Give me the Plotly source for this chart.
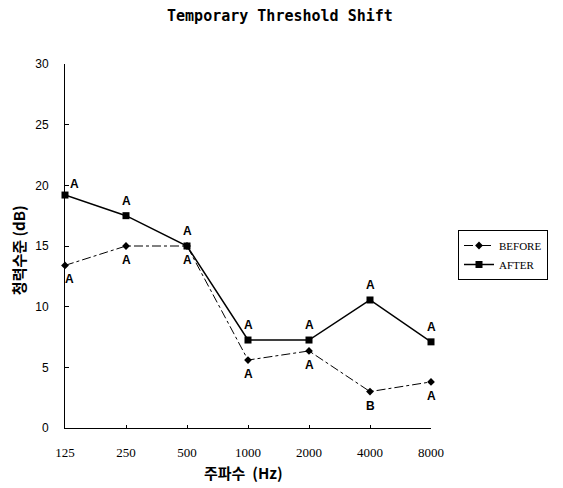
import plotly.graph_objects as go

freqs = ["125", "250", "500", "1000", "2000", "4000", "8000"]
before = [13.4, 15.0, 15.0, 5.6, 6.35, 3.0, 3.8]
after = [19.2, 17.5, 15.0, 7.25, 7.25, 10.55, 7.1]
before_labels = ["A", "A", "A", "A", "A", "B", "A"]
after_labels = ["A", "A", "A", "A", "A", "A", "A"]
yticks = [0, 5, 10, 15, 20, 25, 30]

fig = go.Figure()
fig.add_trace(go.Scatter(
    x=freqs, y=before, name="BEFORE", mode="lines+markers",
    line=dict(color="black", width=1, dash="dashdot"),
    marker=dict(symbol="diamond", size=6, color="black"),
    cliponaxis=False,
))
fig.add_trace(go.Scatter(
    x=freqs, y=after, name="AFTER", mode="lines+markers",
    line=dict(color="black", width=1.5),
    marker=dict(symbol="square", size=7, color="black"),
    cliponaxis=False,
))

lab_font = dict(family="Liberation Sans", size=12, color="black")
for i, (v, t) in enumerate(zip(after, after_labels)):
    fig.add_annotation(x=i, y=v, text="<b>%s</b>" % t, showarrow=False,
                       xshift=9 if i == 0 else 0, yshift=15 if i > 0 else 11,
                       font=lab_font)
for i, (v, t) in enumerate(zip(before, before_labels)):
    fig.add_annotation(x=i, y=v, text="<b>%s</b>" % t, showarrow=False,
                       xshift=4 if i == 0 else 0, yshift=-14,
                       font=lab_font)

title_font = dict(family="Noto Sans CJK KR", size=15, color="black")
fig.add_annotation(xref="paper", yref="paper", x=0.5, y=-0.121, xshift=-5,
                   xanchor="center", yanchor="middle", showarrow=False,
                   text="<b>주파수  (Hz)</b>", font=title_font)
fig.add_annotation(xref="paper", yref="paper", x=-0.128, y=0.489,
                   xanchor="center", yanchor="middle", showarrow=False,
                   textangle=-90, text="<b>청력수준 (dB)</b>", font=title_font)

fig.update_layout(
    width=563, height=488,
    margin=dict(l=57, r=140, t=56, b=68),
    paper_bgcolor="white", plot_bgcolor="white",
    title=dict(text="<b>Temporary Threshold Shift</b>", x=0.483, xanchor="center",
               y=0.984, yanchor="middle",
               font=dict(family="DejaVu Sans Mono", size=15, color="black")),
    showlegend=True,
    legend=dict(x=(458 - 65) / 366, y=(428 - 230) / 364, xref="paper",
                xanchor="left", yanchor="top",
                bordercolor="black", borderwidth=1, bgcolor="white",
                font=dict(family="Liberation Serif", size=11, color="black"),
                tracegroupgap=0, itemwidth=30),
    xaxis=dict(type="category", range=[0, 6], showgrid=False, zeroline=False,
               automargin=False,
               showline=True, linecolor="black", linewidth=1,
               ticks="inside", ticklen=3, tickcolor="black",
               ticklabelstandoff=12,
               tickfont=dict(family="Liberation Serif", size=13, color="black")),
    yaxis=dict(range=[0, 30], tickvals=yticks, showgrid=False, zeroline=False,
               automargin=False,
               showline=True, linecolor="black", linewidth=1,
               ticks="inside", ticklen=4, tickcolor="black",
               ticklabelstandoff=13,
               tickfont=dict(family="Liberation Sans", size=12, color="black")),
)

fig.write_html("out.html")
